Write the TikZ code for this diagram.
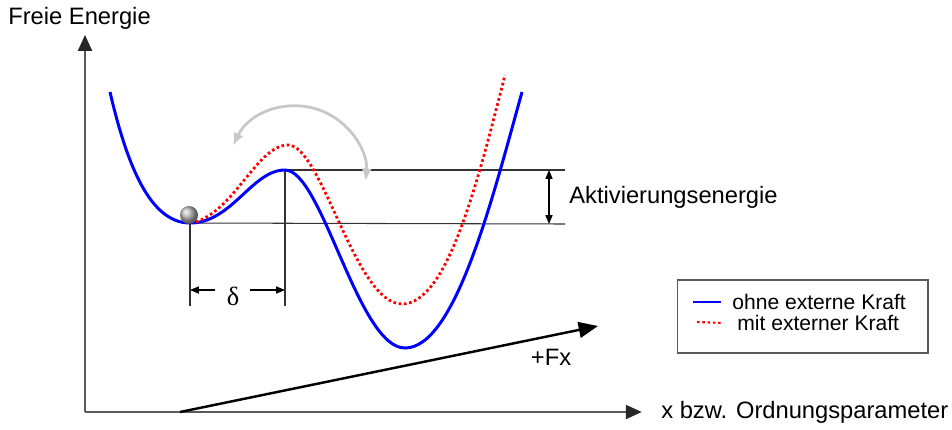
\documentclass[tikz,border=0pt]{standalone}
\usepackage{fontspec}
\setmainfont{Liberation Sans}
\newfontfamily\deltafont{Liberation Serif}
\usetikzlibrary{positioning, arrows.meta, shadings}

\definecolor{achsgrau}{RGB}{90,90,90}
\definecolor{bogengrau}{RGB}{200,200,200}

\tikzset{
  achse/.style={draw=achsgrau, line width=0.9pt, -{Triangle[length=9pt, width=8pt, color=black!85]}},
  hilfslinie/.style={draw=black!80, line width=0.6pt},
  massarrow/.style={draw=black, line width=0.6pt, -{Triangle[length=5pt, width=4pt]}},
  ohnekraft/.style={draw=blue, line width=1.7pt},
  mitkraft/.style={draw=red, line width=1.6pt, dash pattern=on 1.5pt off 1.5pt},
  beschriftung/.style={font=\fontsize{13.5}{16}\selectfont, inner sep=0pt}
}

\begin{document}
\begin{tikzpicture}[x=0.02cm, y=-0.02cm]
\useasboundingbox (0,0) rectangle (952,429);

% Achsen
\coordinate (origin) at (85,412);
\node[beschriftung, anchor=west] (ylab) at (8,18) {Freie Energie};
\node[beschriftung, anchor=west] (xlab) at (661,412) {x bzw. Ordnungsparameter};
\draw[achse] (origin) -- (origin |- 0,35);
\draw[achse] (origin) -- ([xshift=-11pt]xlab.west);

% Hilfspunkte
\coordinate (minA) at (190,223);
\coordinate (maxA) at (285,170);
\coordinate (minB) at (405,348);
\coordinate (rechtsA) at (565,170);
\coordinate (rechtsB) at (565,224);

% Hilfslinien
\draw[hilfslinie] (maxA) -- (rechtsA);
\draw[hilfslinie] (minA) -- (rechtsB);
\draw[hilfslinie] (minA) -- (190,306);
\draw[hilfslinie] (maxA) -- (285,306);

% Potential ohne Kraft
\draw[ohnekraft] (110,92) .. controls (127,165) and (150,223) .. (minA)
  .. controls (232,223) and (252,170) .. (maxA)
  .. controls (322,170) and (358,348) .. (minB)
  .. controls (455,348) and (492,200) .. (522,92);

% Potential mit Kraft
\draw[mitkraft] (196,222) .. controls (236,208) and (258,145) .. (288,145)
  .. controls (322,145) and (355,304) .. (402,304)
  .. controls (447,304) and (477,185) .. (505,75);

% Kugel
\shade[ball color=gray!55] (189,215) circle (9);

% Bogen
\coordinate (bogen) at (296,176);
\draw[draw=bogengrau, line width=1.6pt, {Latex[length=7pt, width=6pt]}-{Latex[length=7pt, width=6pt]}]
  ([shift={(-154:70)}]bogen) arc (-154:4:70);

% delta
\node[font=\deltafont\fontsize{15}{17}\selectfont, inner sep=0pt] (delta) at (233,296) {δ};
\coordinate (deltaL) at (190,290);
\coordinate (deltaR) at (285,290);
\draw[massarrow] (215,290) -- (deltaL);
\draw[massarrow] (250,290) -- (deltaR);

% Aktivierungsenergie
\coordinate (aktO) at (549,170);
\coordinate (aktU) at (549,224);
\draw[massarrow, {Triangle[length=5pt, width=4pt]}-{Triangle[length=5pt, width=4pt]}] (aktO) -- (aktU);
\node[beschriftung, anchor=west] (akt) at (569,197) {Aktivierungsenergie};

% Kraft
\coordinate (fstart) at (180,412);
\coordinate (fend) at (598,326);
\draw[draw=black, line width=1.4pt, -{Triangle[length=11pt, width=9pt]}] (fstart) -- (fend);
\node[beschriftung] (fx) at (551,357) {+Fx};

% Legende
\node[draw=achsgrau, line width=0.6pt, minimum width=5.02cm, minimum height=1.46cm, inner sep=0pt] (legende) at (802.5,316.5) {};
\node[font=\fontsize{12}{14}\selectfont, inner sep=0pt, anchor=west] (lohne) at (732,302) {ohne externe Kraft};
\node[font=\fontsize{12}{14}\selectfont, inner sep=0pt, anchor=west] (lmit) at (737,323) {mit externer Kraft};
\draw[ohnekraft] (693,302) -- ([xshift=-6pt]lohne.west);
\draw[mitkraft, line width=1.2pt] (697,322) -- ([xshift=-8pt]lmit.west);
\end{tikzpicture}
\end{document}
